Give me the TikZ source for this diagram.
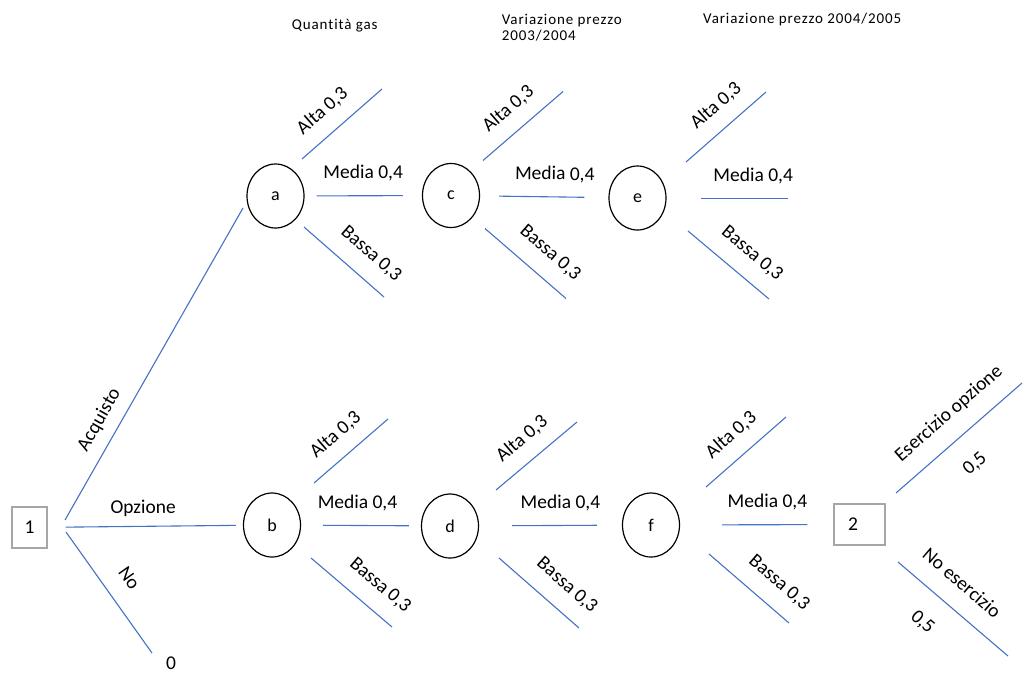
\documentclass[tikz,border=0pt]{standalone}
\usepackage{fontspec}
\setmainfont[Ligatures=NoCommon]{Carlito}
\newfontfamily\hdrfont[LetterSpace=6, Ligatures=NoCommon]{Carlito}
\usetikzlibrary{positioning,shapes.geometric}
\definecolor{branchblue}{HTML}{4472C4}
\definecolor{boxgray}{HTML}{A6A6A6}

\begin{document}
\begin{tikzpicture}[x=1pt, y=-1pt, every node/.style={font=\fontsize{19.5}{23}\selectfont}]
\tikzstyle{chance}=[draw, ellipse, line width=1.2pt, minimum width=57pt, minimum height=64pt, inner sep=0pt, font=\fontsize{18}{20}\selectfont]
\tikzstyle{decision}=[draw=boxgray, line width=1.2pt, minimum height=41pt, inner sep=0pt]
\tikzstyle{branch}=[draw=branchblue, line width=1.1pt]
\tikzstyle{lbl}=[sloped, above=14pt, inner sep=0pt]
\tikzstyle{lblb}=[sloped, below=22pt, inner sep=0pt]
\tikzstyle{hdr}=[anchor=base west, inner sep=0pt, align=left, font=\hdrfont\fontsize{15}{16.7}\selectfont]
\useasboundingbox (0,0) rectangle (1023,673);

% column headers
\node[hdr] (hq) at (291.7,29) {Quantità gas};
\node[hdr] (h1) at (501.7,40.7) {Variazione prezzo\\2003/2004};
\node[hdr] (h2) at (703,23.3) {Variazione prezzo 2004/2005};

% decision and chance nodes
\node[decision, minimum width=35pt] (n1) at (29.5,527.5) {1};
\node[chance] (a) at (275.5,196) {a};
\node[chance] (c) at (451,195.5) {c};
\node[chance] (e) at (637.5,198) {e};
\node[chance] (b) at (272,525) {b};
\node[chance] (d) at (450,526) {d};
\node[chance] (f) at (651,525) {f};
\node[decision, minimum width=51pt] (n2) at (859.5,524.5) {2\kern13pt};
\node[inner sep=0pt] (zero) at (171,663.5) {0};

% first decision
\draw[branch] (n1.center) ++(35.5,-7.5) -- ([shift={(-32.5,12)}]a.center) node[lbl, above=11pt, pos=.29] {Acquisto};
\draw[branch, shorten <=18pt, shorten >=7pt] (n1) -- node[lbl, above=9pt, pos=.49] {Opzione} (b);
\draw[branch] (n1.center) ++(36.5,4.5) -- ([shift={(-19,-10.5)}]zero.center) node[lbl, above=18pt, pos=.5] {No};

% upper branch
\draw[branch] (a.center) ++(26.5,-37) -- ++(80,-70) node[lbl, pos=.44] {Alta 0,3};
\draw[branch, shorten <=12pt, shorten >=19pt] (a) -- node[lbl, pos=.5] {Media 0,4} (c);
\draw[branch] (a.center) ++(28.5,31) -- ++(80,70) node[lbl, above=16pt, pos=.64] {Bassa 0,3};
\draw[branch] (c.center) ++(32,-35) -- ++(80,-69) node[lbl, pos=.5] {Alta 0,3};
\draw[branch, shorten <=19pt, shorten >=24pt] (c) -- node[lbl, pos=.58] {Media 0,4} (e);
\draw[branch] (c.center) ++(34,33) -- ++(81,70) node[lbl, above=16pt, pos=.61] {Bassa 0,3};
\draw[branch] (e.center) ++(48.5,-36) -- ++(80,-70) node[lbl, pos=.56] {Alta 0,3};
\draw[branch] (e.center) ++(63.5,0.5) -- ++(87,0) node[lbl, pos=.6] {Media 0,4};
\draw[branch] (e.center) ++(50.5,33) -- ++(81,68) node[lbl, above=16pt, pos=.6] {Bassa 0,3};

% lower branch
\draw[branch] (b.center) ++(42,-42) -- ++(74,-64) node[lbl, pos=.49] {Alta 0,3};
\draw[branch, shorten <=22pt, shorten >=12pt] (b) -- node[lbl, pos=.47] {Media 0,4} (d);
\draw[branch] (b.center) ++(39,33) -- ++(81,69) node[lbl, above=16pt, pos=.66] {Bassa 0,3};
\draw[branch] (d.center) ++(46,-36) -- ++(81,-68) node[lbl, pos=.5] {Alta 0,3};
\draw[branch, shorten <=33pt, shorten >=25pt] (d) -- node[lbl, pos=.57] {Media 0,4} (f);
\draw[branch] (d.center) ++(49,32) -- ++(80,70) node[lbl, above=16pt, pos=.65] {Bassa 0,3};
\draw[branch] (f.center) ++(55,-38) -- ++(80,-70) node[lbl, pos=.5] {Alta 0,3};
\draw[branch, shorten <=42pt, shorten >=26pt] (f) -- node[lbl, pos=.57] {Media 0,4} (n2);
\draw[branch] (f.center) ++(58,29) -- ++(80,69) node[lbl, above=16pt, pos=.68] {Bassa 0,3};

% option
\draw[branch] (n2.center) ++(36.5,-31.5) -- ++(126,-110) node[lbl, above=16pt, pos=.55] {Esercizio opzione} node[lblb, pos=.47] {0,5};
\draw[branch] (n2.center) ++(38.5,37.5) -- ++(110,94) node[lbl, above=18.5pt, pos=.43] {No esercizio} node[lblb, pos=.4] {0,5};
\end{tikzpicture}
\end{document}
